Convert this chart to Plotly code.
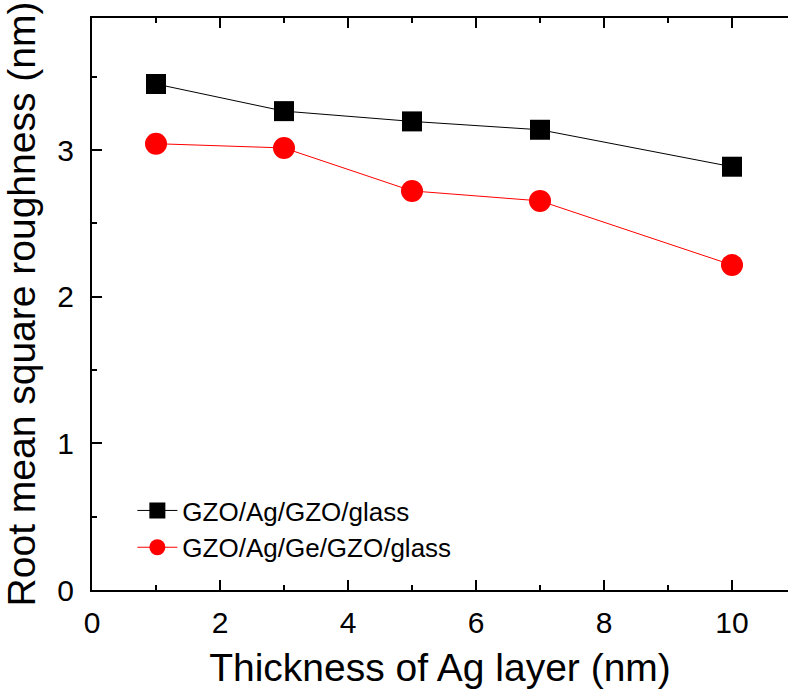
import plotly.graph_objects as go

thickness = [1, 3, 5, 7, 10]
rms_gzo_ag = [3.45, 3.265, 3.195, 3.138, 2.886]
rms_gzo_ag_ge = [3.043, 3.014, 2.721, 2.653, 2.216]
names = ["GZO/Ag/GZO/glass", "GZO/Ag/Ge/GZO/glass"]

FONT = "Liberation Sans, Arial, sans-serif"

fig = go.Figure()
fig.add_trace(go.Scatter(x=thickness, y=rms_gzo_ag, name=names[0], mode="lines+markers",
                         line=dict(color="black", width=1),
                         marker=dict(symbol="square", size=20, color="black", line=dict(width=0))))
fig.add_trace(go.Scatter(x=thickness, y=rms_gzo_ag_ge, name=names[1], mode="lines+markers",
                         line=dict(color="red", width=1),
                         marker=dict(symbol="circle", size=22, color="red", line=dict(width=0))))

axis_common = dict(showgrid=False, zeroline=False, showline=True, linecolor="black", linewidth=2,
                   ticks="inside", ticklen=10, tickwidth=2, tickcolor="black",
                   tickfont=dict(family=FONT, size=30, color="black"))

fig.update_xaxes(range=[0, 10.875], dtick=2, tick0=0, mirror="ticks",
                 minor=dict(ticks="inside", ticklen=5, tickwidth=2, tickcolor="black", dtick=1, tick0=0),
                 ticklabelstandoff=5,
                 title=dict(text="Thickness of Ag layer (nm)", font=dict(family=FONT, size=39, color="black"), standoff=16),
                 **axis_common)
fig.update_yaxes(range=[0, 3.9], dtick=1, tick0=0, mirror=False,
                 minor=dict(ticks="inside", ticklen=5, tickwidth=2, tickcolor="black", dtick=0.5, tick0=0),
                 ticklabelstandoff=10,
                 title=dict(text="Root mean square roughness (nm)", font=dict(family=FONT, size=39, color="black"), standoff=14),
                 **axis_common)

fig.update_layout(width=788, height=692, margin=dict(l=92, r=0, t=18, b=102),
                  plot_bgcolor="white", paper_bgcolor="white",
                  legend=dict(x=0.058, y=0.18, xanchor="left", yanchor="top",
                              font=dict(family=FONT, size=26, color="black"),
                              bgcolor="rgba(0,0,0,0)", tracegroupgap=0, itemwidth=40))

fig.write_html("out.html")
